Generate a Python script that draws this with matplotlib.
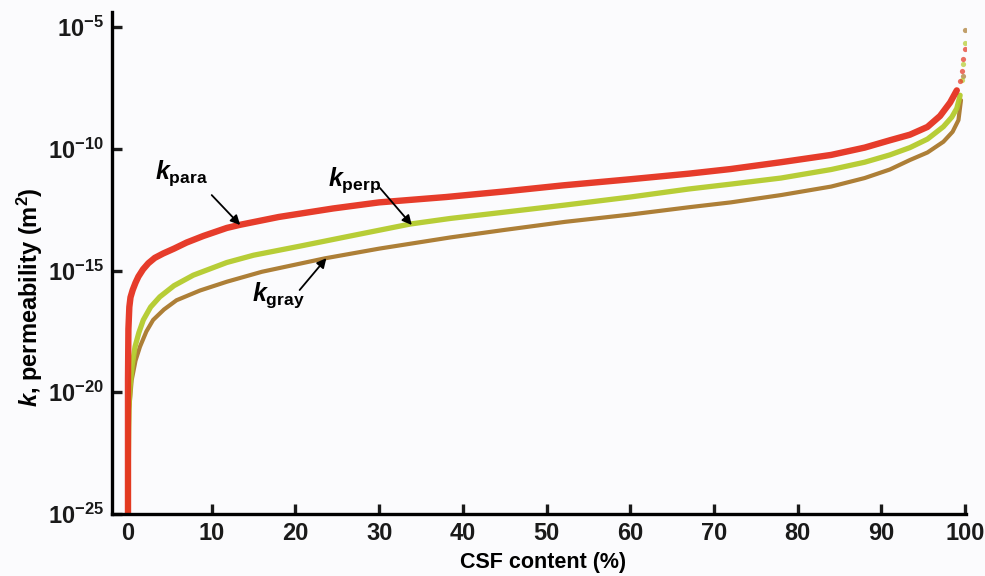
import numpy as np
import matplotlib
matplotlib.use('Agg')
import matplotlib.pyplot as plt
from matplotlib.ticker import FuncFormatter, NullLocator


# 글꼴 설정
plt.rcParams['font.family'] = ['Liberation Sans', 'DejaVu Sans']
plt.rcParams['font.weight'] = 'bold'
plt.rcParams['mathtext.fontset'] = 'custom'
plt.rcParams['mathtext.rm'] = 'Liberation Sans:bold'
plt.rcParams['mathtext.it'] = 'Liberation Sans:bold:italic'
plt.rcParams['mathtext.bf'] = 'Liberation Sans:bold'

# CSF content (%) and log10(k)
para_x = [0, 0, 0.05, 0.16, 0.3, 0.56, 0.9, 1.24, 1.8, 2.43,
          3.2, 4.2, 5.5, 7.0, 9.0, 11.8, 13.4, 18, 24.5, 30,
          38, 45, 52, 60, 67, 72, 78, 84, 88, 91,
          93.4, 95.5, 97, 98.2, 99, 99.4, 99.6, 99.8, 100]
para_logk = [-25, -19.5, -17.4, -16.5, -16.1, -15.8, -15.5, -15.25, -14.95, -14.7,
             -14.48, -14.3, -14.1, -13.85, -13.58, -13.25, -13.12, -12.8, -12.45, -12.2,
             -11.98, -11.75, -11.5, -11.25, -11.02, -10.83, -10.55, -10.25, -9.95, -9.65,
             -9.42, -9.1, -8.65, -8.1, -7.6, -7.2, -6.8, -6.3, -5.9]

perp_x = [0, 0.05, 0.12, 0.24, 0.5, 0.84, 1.3, 1.83, 2.7, 3.8,
          5.5, 7.8, 11.8, 15, 20.5, 27, 33.7, 38.5, 45, 52.2,
          60, 67, 72, 78, 84, 88, 91, 93.4, 95.5, 97.4,
          98.4, 99, 99.4, 99.6, 99.8, 100]
perp_logk = [-25, -22.5, -20.6, -19.77, -18.9, -18.13, -17.55, -17.03, -16.5, -16.08,
             -15.62, -15.19, -14.67, -14.37, -14.0, -13.55, -13.09, -12.86, -12.6, -12.31,
             -11.98, -11.65, -11.45, -11.2, -10.85, -10.55, -10.25, -9.95, -9.6, -9.09,
             -8.7, -8.34, -7.8, -7.18, -6.5, -5.67]

gray_x = [0, 0.05, 0.15, 0.44, 0.9, 1.43, 2.2, 3.0, 4.3, 5.8,
          8.6, 11.8, 16, 23.5, 30, 38.5, 45, 52.2, 60, 67,
          72, 78, 84, 88, 91, 93.4, 95.5, 97.4, 98.5, 99.2,
          99.5, 99.7, 100]
gray_logk = [-25, -22.5, -20.7, -19.5, -18.7, -18.13, -17.5, -17.03, -16.6, -16.22,
             -15.82, -15.46, -15.05, -14.5, -14.1, -13.64, -13.33, -13.0, -12.7, -12.4,
             -12.2, -11.9, -11.55, -11.2, -10.85, -10.46, -10.15, -9.71, -9.3, -8.82,
             -8.0, -7.0, -5.1]

x_ticks = [0, 10, 20, 30, 40, 50, 60, 70, 80, 90, 100]
y_ticks = [1e-25, 1e-20, 1e-15, 1e-10, 1e-5]

series = [
    (gray_x, gray_logk, '#a9782c', 3.0),
    (perp_x, perp_logk, '#b4cb2c', 3.8),
    (para_x, para_logk, '#e5321f', 4.6),
]

bg = '#fbfbfd'
fig = plt.figure(figsize=(9.85, 5.76), dpi=100, facecolor=bg)
ax = fig.add_axes([112 / 985, 1 - 514 / 576, (966 - 112) / 985, (514 - 12) / 576])
ax.set_facecolor(bg)

for xs, logk, color, lw in series:
    xs = np.array(xs)
    k = 10.0 ** np.array(logk)
    # 곡선 본체는 굵은 선, 끝부분은 흩어진 점
    body = np.array(logk) < -7.5
    ax.plot(xs[body], k[body], color=color, lw=lw, solid_capstyle='round', alpha=0.95)
    ax.scatter(xs[~body], k[~body], s=14, color=color, alpha=0.7, lw=0)

ax.set_yscale('log')
ax.set_xlim(-1.91, 100.1)
ax.set_ylim(1e-25, 10 ** -4.38)
ax.set_xticks(x_ticks)
ax.set_yticks(y_ticks)
ax.yaxis.set_minor_locator(NullLocator())
ax.yaxis.set_major_formatter(FuncFormatter(lambda v, p: r'$10^{%d}$' % int(round(np.log10(v)))))

for side in ['top', 'right']:
    ax.spines[side].set_visible(False)
for side in ['left', 'bottom']:
    ax.spines[side].set_linewidth(2.4)
ax.tick_params(direction='in', length=7, width=2.4, labelsize=17, pad=6, colors='#1a1a1a')

ax.set_xlabel('CSF content (%)', fontsize=15.5, fontweight='bold')
ax.set_ylabel(r'$\mathit{k}$, permeability (m$^2$)', fontsize=17, fontweight='bold')
ax.xaxis.set_label_coords(0.505, -0.075)
ax.yaxis.set_label_coords(-0.078, 0.432)

# 곡선 이름표와 화살표
arrow = dict(arrowstyle='-|>', color='black', lw=1.3, mutation_scale=14, shrinkA=0, shrinkB=0)
ax.annotate('', xy=(13.4, 10 ** -13.13), xytext=(10.0, 10 ** -11.9), arrowprops=arrow)
ax.annotate('', xy=(33.9, 10 ** -13.13), xytext=(30.1, 10 ** -11.61), arrowprops=arrow)
ax.annotate('', xy=(23.7, 10 ** -14.49), xytext=(20.5, 10 ** -15.8), arrowprops=arrow)
ax.text(3.2, 10 ** -11.0, r'$\mathit{k}_{\mathrm{para}}$', fontsize=18, va='center', ha='left')
ax.text(23.9, 10 ** -11.28, r'$\mathit{k}_{\mathrm{perp}}$', fontsize=18, va='center', ha='left')
ax.text(14.8, 10 ** -16.0, r'$\mathit{k}_{\mathrm{gray}}$', fontsize=18, va='center', ha='left')

fig.savefig('out.png', dpi=100, facecolor=bg)
